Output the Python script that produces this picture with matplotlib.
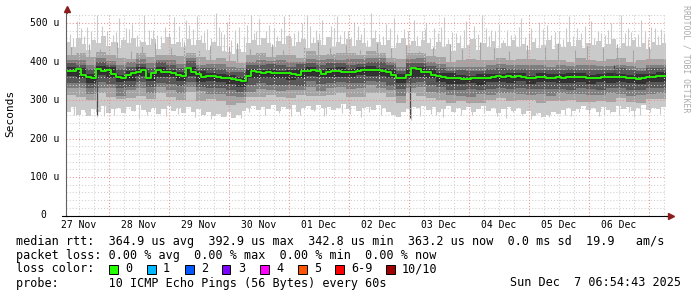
import matplotlib
matplotlib.use('Agg')
import matplotlib.pyplot as plt
import numpy as np
import pandas as pd
from matplotlib.patches import Rectangle
from matplotlib.lines import Line2D

plt.rcParams['font.family'] = ['DejaVu Sans Mono']

W, H = 697, 297
start = pd.Timestamp('2025-11-27 06:54:43')
end = pd.Timestamp('2025-12-07 06:54:43')

# median rtt (us), one value per 2 hours
median_2h = [376, 375, 381, 366, 360, 358, 381, 375, 378, 368,
             360, 356, 364, 370, 374, 378, 357, 370, 378, 374,
             373, 369, 365, 362, 382, 374, 368, 360, 362, 363,
             361, 358, 356, 354, 352, 350, 362, 376, 372, 371,
             372, 371, 370, 371, 369, 368, 366, 375, 376, 378,
             375, 368, 374, 376, 376, 374, 373, 374, 375, 377,
             379, 379, 377, 376, 374, 366, 356, 358, 364, 382,
             380, 374, 372, 365, 363, 360, 358, 357, 356, 355,
             354, 356, 358, 357, 358, 361, 362, 360, 362, 361,
             363, 360, 357, 358, 361, 359, 356, 358, 360, 358,
             360, 359, 361, 359, 357, 358, 358, 360, 361, 360,
             359, 361, 358, 356, 355, 358, 360, 361, 362, 363]

# fastest and slowest ping (us), one value per 2 hours
ping1_2h = [268, 281, 262, 274, 259, 277, 270, 284, 265, 276,
            279, 266, 283, 271, 287, 274, 268, 280, 263, 276,
            285, 272, 278, 266, 281, 269, 276, 262, 270, 258,
            264, 255, 268, 252, 261, 271, 279, 285, 274, 281,
            277, 288, 272, 282, 276, 286, 270, 280, 284, 274,
            287, 278, 283, 273, 280, 289, 276, 284, 271, 279,
            283, 274, 287, 278, 270, 262, 257, 268, 276, 282,
            278, 285, 273, 281, 270, 277, 284, 268, 279, 273,
            282, 269, 277, 285, 272, 280, 267, 276, 283, 271,
            278, 264, 272, 259, 266, 255, 261, 270, 263, 275,
            280, 271, 277, 284, 273, 279, 268, 282, 275, 270,
            284, 276, 281, 272, 278, 286, 274, 280, 277, 283]
ping10_2h = [452, 438, 461, 445, 430, 457, 448, 466, 441, 450,
             436, 455, 447, 462, 439, 451, 444, 458, 433, 449,
             463, 446, 452, 437, 459, 443, 455, 448, 431, 450,
             441, 428, 426, 420, 432, 424, 447, 456, 442, 460,
             449, 437, 454, 445, 465, 440, 451, 458, 436, 447,
             457, 444, 463, 439, 452, 446, 459, 441, 455, 448,
             438, 462, 450, 443, 457, 435, 449, 461, 444, 453,
             440, 456, 447, 433, 451, 438, 445, 427, 449, 436,
             442, 458, 430, 447, 439, 453, 434, 448, 441, 456,
             437, 445, 429, 450, 436, 443, 455, 432, 446, 439,
             451, 441, 457, 435, 448, 442, 453, 437, 446, 459,
             434, 449, 440, 455, 438, 447, 432, 451, 443, 448]

# inner pings (us), one value per 4 hours
ping2_4h = [314, 308, 301, 318, 309, 302, 305, 310, 303, 318,
            307, 301, 322, 298, 302, 298, 287, 293, 309, 307,
            313, 308, 304, 314, 311, 311, 313, 317, 309, 308,
            319, 318, 308, 293, 317, 311, 306, 301, 293, 297,
            293, 291, 299, 305, 297, 299, 299, 292, 297, 297,
            301, 296, 295, 298, 294, 304, 295, 292, 302, 302]
ping3_4h = [331, 332, 315, 332, 330, 311, 326, 331, 319, 334,
            325, 318, 335, 323, 316, 316, 310, 309, 322, 328,
            327, 324, 326, 325, 334, 324, 331, 333, 328, 330,
            338, 331, 326, 311, 330, 335, 321, 317, 314, 310,
            309, 316, 314, 317, 319, 315, 314, 315, 310, 317,
            315, 315, 314, 312, 319, 316, 311, 313, 315, 318]
ping4_4h = [344, 345, 332, 348, 342, 330, 334, 346, 334, 344,
            341, 336, 347, 335, 330, 332, 325, 320, 340, 344,
            339, 340, 339, 337, 349, 341, 344, 346, 345, 344,
            350, 346, 337, 329, 344, 346, 338, 333, 325, 326,
            328, 327, 328, 332, 329, 331, 329, 329, 328, 329,
            326, 332, 328, 327, 330, 332, 325, 327, 330, 331]
ping5_4h = [363, 358, 345, 366, 358, 347, 350, 363, 349, 360,
            359, 350, 363, 347, 350, 346, 342, 335, 358, 356,
            357, 358, 352, 357, 362, 360, 361, 359, 360, 364,
            362, 363, 356, 345, 358, 361, 357, 347, 342, 342,
            343, 340, 346, 347, 345, 349, 342, 347, 346, 343,
            345, 347, 342, 346, 343, 346, 345, 341, 347, 348]
ping6_4h = [387, 383, 367, 388, 385, 365, 376, 386, 371, 387,
            378, 373, 387, 376, 370, 367, 365, 360, 380, 379,
            381, 376, 377, 381, 387, 379, 384, 387, 380, 386,
            388, 384, 381, 367, 380, 386, 378, 369, 369, 364,
            363, 368, 368, 368, 371, 371, 363, 369, 368, 367,
            369, 369, 364, 368, 371, 368, 366, 368, 368, 372]
ping7_4h = [396, 392, 381, 399, 392, 381, 387, 394, 384, 398,
            390, 383, 401, 382, 383, 380, 372, 373, 390, 390,
            393, 390, 387, 393, 395, 392, 395, 397, 392, 393,
            400, 398, 390, 376, 396, 395, 388, 382, 376, 377,
            375, 375, 380, 384, 380, 381, 379, 377, 378, 379,
            381, 379, 377, 379, 378, 383, 377, 375, 382, 383]
ping8_4h = [405, 405, 391, 408, 401, 391, 398, 406, 395, 405,
            404, 393, 409, 392, 394, 393, 385, 382, 398, 403,
            401, 404, 399, 399, 407, 403, 406, 403, 406, 406,
            410, 408, 399, 387, 406, 408, 398, 393, 385, 386,
            387, 386, 390, 394, 391, 391, 391, 391, 386, 391,
            389, 391, 390, 388, 389, 392, 388, 384, 392, 392]
ping9_4h = [418, 422, 411, 424, 417, 408, 407, 422, 411, 418,
            417, 415, 422, 412, 404, 410, 401, 395, 417, 423,
            413, 416, 416, 410, 427, 417, 419, 423, 423, 418,
            427, 422, 410, 407, 421, 421, 414, 411, 399, 403,
            407, 403, 403, 409, 403, 407, 407, 404, 405, 405,
            399, 410, 405, 402, 406, 410, 399, 404, 406, 406]

# single slow outliers (hours after start, us)
spike_hi_hours = [4.4, 8.4, 12.4, 16.4, 21.2, 24.0, 26.4, 31.2, 33.2, 36.4, 43.2, 45.2, 48.0,
                  49.2, 52.4, 56.4, 60.0, 62.0, 64.4, 69.2, 74.0, 76.0, 77.2, 81.2, 83.2, 87.2, 91.2, 94.4,
                  96.4, 100.0, 102.4, 106.0, 108.4, 111.2, 115.2, 119.2, 122.0, 125.2, 128.0, 131.2, 135.2, 139.2, 142.4,
                  144.0, 147.2, 151.2, 156.0, 160.0, 163.2, 166.4, 170.0, 173.2, 178.0, 182.0, 186.0, 189.2,
                  192.4, 197.2, 201.2, 204.4, 210.0, 214.0, 218.0, 222.0, 226.0, 230.0, 234.0, 238.0]
spike_hi_vals = [505, 490, 522, 478, 512, 486, 498, 520, 482, 470, 515, 493, 508,
                 496, 518, 484, 525, 476, 502, 489, 522, 479, 511, 494, 486, 517, 475, 500,
                 521, 483, 507, 492, 519, 478, 503, 488, 525, 471, 497, 514, 485, 509, 480,
                 499, 487, 516, 474, 505, 492, 520, 481, 498, 470, 512, 488, 503,
                 495, 480, 518, 486, 506, 474, 500, 521, 477, 509, 490, 484]
spike_mid_hours = [1.6, 2.8, 6.0, 7.2, 10.0, 11.2, 14.4, 18.8, 20.0, 22.8,
                   25.2, 28.4, 29.6, 34.8, 38.0, 39.6, 41.2, 46.4, 50.8, 54.0,
                   55.2, 58.0, 61.2, 63.2, 66.0, 67.6, 71.2, 72.4, 75.2, 78.8,
                   80.0, 84.4, 86.0, 88.8, 90.0, 92.8, 97.6, 98.8, 101.2, 104.4,
                   107.2, 109.6, 112.8, 114.0, 116.8, 118.0, 120.4, 123.6, 126.8, 129.6,
                   132.4, 134.0, 136.8, 140.4, 143.6, 145.6, 148.8, 150.0, 152.8, 154.4,
                   157.6, 159.2, 161.6, 164.8, 168.0, 169.2, 171.6, 174.8, 176.4, 179.6,
                   181.2, 183.6, 185.2, 187.6, 190.8, 194.0, 195.6, 198.8, 200.0, 202.8,
                   206.0, 207.6, 211.2, 212.8, 215.6, 216.8, 219.6, 223.6, 224.8, 227.6,
                   228.8, 231.6, 232.8, 235.6, 236.8, 239.2]
spike_mid_vals = [472, 461, 488, 466, 479, 458, 492, 469, 476, 463,
                  485, 470, 457, 481, 466, 490, 473, 460, 484, 468,
                  477, 462, 489, 471, 456, 483, 467, 494, 474, 459,
                  480, 465, 487, 470, 461, 478, 491, 464, 475, 458,
                  486, 469, 480, 463, 493, 472, 457, 482, 466, 488,
                  471, 460, 479, 467, 485, 462, 474, 490, 459, 476,
                  468, 483, 461, 472, 487, 465, 478, 456, 481, 470,
                  489, 463, 475, 460, 484, 469, 477, 458, 486, 466,
                  473, 491, 462, 479, 468, 482, 457, 475, 488, 464,
                  471, 480, 459, 486, 467, 474]
# single fast outliers
spike_lo_hours = [12.4, 19.0, 29.0, 40.0, 58.0, 66.0, 70.0, 90.0, 104.0, 118.0,
                  138.0, 148.0, 158.0, 176.0, 186.0, 190.0, 202.0, 215.0, 227.0,
                  3.2, 7.6, 15.2, 23.6, 27.2, 32.4, 37.2, 44.8, 51.6, 54.8,
                  60.8, 64.0, 73.2, 79.6, 85.2, 93.6, 99.2, 103.2, 110.4, 113.6,
                  121.2, 126.0, 130.4, 133.2, 141.6, 146.0, 150.8, 155.2, 162.4, 167.2,
                  172.4, 178.8, 182.4, 188.4, 193.2, 196.4, 199.6, 205.2, 209.2, 213.2,
                  217.6, 221.2, 225.2, 229.6, 233.6, 237.6]
spike_lo_vals = [256, 262, 252, 258, 250, 261, 254, 259, 263, 257,
                 249, 260, 262, 253, 250, 255, 258, 261, 256,
                 262, 268, 258, 265, 271, 260, 266, 263, 257, 269,
                 264, 259, 270, 262, 267, 261, 272, 258, 266, 263,
                 269, 260, 265, 271, 258, 264, 256, 268, 262, 266,
                 259, 270, 261, 264, 257, 267, 260, 269, 263, 258,
                 266, 261, 270, 262, 268, 264]
# outliers of the second ping from the top
spike_p9_hours = [2.0, 9.2, 13.6, 20.4, 26.0, 30.4, 35.6, 42.0, 47.2, 53.2,
                  57.6, 65.2, 68.4, 73.6, 82.4, 86.8, 95.2, 100.8, 105.6, 112.0,
                  117.6, 124.4, 130.0, 136.0, 141.2, 146.8, 153.6, 158.4, 165.6, 171.2,
                  177.2, 184.4, 191.6, 196.8, 203.6, 208.4, 214.8, 220.4, 226.8, 233.2]
spike_p9_vals = [438, 445, 432, 450, 428, 441, 447, 435, 452, 430,
                 443, 437, 449, 433, 446, 429, 440, 451, 434, 444,
                 431, 448, 436, 442, 427, 439, 445, 432, 450, 436,
                 428, 443, 437, 447, 431, 441, 434, 446, 429, 438]
dark_spike_hours = [12.4, 137.6, 219.2]
dark_spike_lo = [262, 252, 366]
dark_spike_hi = [352, 366, 392]

day_labels = ['27 Nov', '28 Nov', '29 Nov', '30 Nov', '01 Dec',
              '02 Dec', '03 Dec', '04 Dec', '05 Dec', '06 Dec']
y_ticks = [0, 100, 200, 300, 400, 500]
y_labels = ['0  ', '100 u', '200 u', '300 u', '400 u', '500 u']

loss_labels = ['0', '1', '2', '3', '4', '5', '6-9', '10/10']
loss_colors = ['#26ff00', '#00b8ff', '#0059ff', '#7e00ff', '#ff00ff', '#ff5500', '#ff0000', '#a10000']


def edges(values, hours):
    x = pd.date_range(start, periods=len(values) + 1, freq=f'{hours}h')
    return x, np.append(values, values[-1])


def at(hours):
    return start + pd.to_timedelta(hours, unit='h')


def px(x, y):
    return x / W, 1 - y / H


fig = plt.figure(figsize=(W / 100, H / 100), dpi=100)
fig.patch.set_facecolor('white')
ax = fig.add_axes([66 / W, (H - 215.5) / H, 600 / W, 202.1 / H])
ax.set_xlim(start, end)
ax.set_ylim(0, 525)

# smoke bands, outermost first
x2, lo = edges(ping1_2h, 2)
_, hi = edges(ping10_2h, 2)
ax.fill_between(x2, lo, hi, step='post', color='#cacaca', lw=0, zorder=1)
ax.vlines(at(spike_hi_hours), 420, spike_hi_vals, color='#cacaca', lw=0.8, zorder=1)
ax.vlines(at(spike_mid_hours), 420, spike_mid_vals, color='#cacaca', lw=0.8, zorder=1)
ax.vlines(at(spike_lo_hours), spike_lo_vals, 290, color='#cacaca', lw=0.8, zorder=1)
ax.vlines(at(spike_p9_hours), 400, spike_p9_vals, color='#a4a4a4', lw=0.8, zorder=1.05)

bands = [(ping2_4h, ping9_4h, '#a4a4a4'),
         (ping3_4h, ping8_4h, '#7e7e7e'),
         (ping4_4h, ping7_4h, '#585858'),
         (ping5_4h, ping6_4h, '#323232')]
for low, high, col in bands:
    x4, lo = edges(low, 4)
    _, hi = edges(high, 4)
    ax.fill_between(x4, lo, hi, step='post', color=col, lw=0, zorder=1.1)

ax.vlines(at(dark_spike_hours), dark_spike_lo, dark_spike_hi, color='#484848', lw=0.9, zorder=1.2)

# grid
for v in range(20, 525, 20):
    if v % 100:
        ax.axhline(v, color='#cfcfcf', lw=0.75, ls=(0, (1, 2)), zorder=2)
for v in y_ticks[1:]:
    ax.axhline(v, color='#e89090', lw=0.75, ls=(0, (1, 2)), zorder=2.1)
six = pd.date_range('2025-11-27 12:00', '2025-12-07 06:00', freq='6h')
for t in six:
    if t.hour == 0:
        ax.axvline(t, color='#e89090', lw=0.75, ls=(0, (1, 2)), zorder=2.1)
    else:
        ax.axvline(t, color='#cfcfcf', lw=0.75, ls=(0, (1, 2)), zorder=2)

# median
xm, ym = edges(median_2h, 2)
ax.step(xm, ym, where='post', color='#2c2c2c', lw=1.9, zorder=2.9)
ax.step(xm, ym, where='post', color='#26ff00', lw=1.3, zorder=3)

# axes look
for s in ['top', 'right']:
    ax.spines[s].set_visible(False)
ax.spines['left'].set_color('#606060')
ax.spines['left'].set_linewidth(0.8)
ax.spines['bottom'].set_color('#000000')
ax.spines['bottom'].set_linewidth(0.8)
ax.spines['left'].set_zorder(4)
ax.spines['bottom'].set_zorder(4)

noons = pd.date_range('2025-11-27 12:00', periods=10, freq='D')
ax.set_xticks(noons)
ax.set_xticklabels(day_labels)
ax.tick_params(axis='x', length=0, pad=3.5, labelsize=7)
ax.set_yticks([])
ytr = ax.get_yaxis_transform()
for v, lab in zip(y_ticks, y_labels):
    ax.text(-7 / 600, v, lab, transform=ytr, ha='right', va='center', fontsize=7)

# axis arrows
fig.add_artist(Line2D([66.5 / W, 66.5 / W], [1 - 13.4 / H, 1 - 9 / H], color='#606060', lw=0.8))
fig.add_artist(Line2D([666 / W, 670 / W], [1 - 215.5 / H, 1 - 215.5 / H], color='#000000', lw=0.8))
fig.add_artist(Line2D([62 / W, 66.5 / W], [1 - 215.5 / H, 1 - 215.5 / H], color='#000000', lw=0.8))
fig.add_artist(Line2D([66.5 / W], [1 - 9 / H], marker='^', ms=4, color='#8b1c1c', lw=0))
fig.add_artist(Line2D([671 / W], [1 - 215.5 / H], marker='>', ms=4, color='#8b1c1c', lw=0))

# labels
fig.text(*px(10, 113), 'Seconds', rotation=90, ha='center', va='center', fontsize=8)
fig.text(*px(686, 5), 'RRDTOOL / TOBI OETIKER', rotation=270, ha='center', va='top',
         fontsize=5.9, color='#aaaaaa')

fs = 8.5
fig.text(*px(16, 241), 'median rtt:  364.9 us avg  392.9 us max  342.8 us min  363.2 us now  0.0 ms sd  19.9   am/s',
         ha='left', va='center', fontsize=fs)
fig.text(*px(16, 255), 'packet loss: 0.00 % avg  0.00 % max  0.00 % min  0.00 % now',
         ha='left', va='center', fontsize=fs)
fig.text(*px(16, 269), 'loss color:', ha='left', va='center', fontsize=fs)
box_x = [109, 147, 185, 222, 260, 298, 335, 386]
for bx, lab, col in zip(box_x, loss_labels, loss_colors):
    fig.add_artist(Rectangle(px(bx, 273.5), 8.5 / W, 9 / H, facecolor=col,
                             edgecolor='black', lw=0.7, transform=fig.transFigure))
    fig.text(*px(bx + 16, 269), lab, ha='left', va='center', fontsize=fs)
fig.text(*px(16, 283), 'probe:       10 ICMP Echo Pings (56 Bytes) every 60s',
         ha='left', va='center', fontsize=fs)
fig.text(*px(681, 283), 'Sun Dec  7 06:54:43 2025', ha='right', va='center', fontsize=fs)

fig.savefig('out.png', dpi=100)
